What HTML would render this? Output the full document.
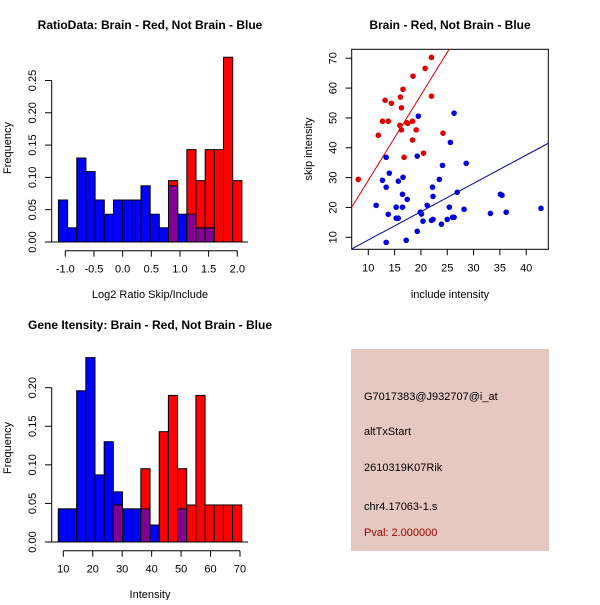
<!DOCTYPE html>
<html><head><meta charset="utf-8"><style>
body{margin:0;background:#fff}
svg text{font-family:"Liberation Sans",sans-serif}
</style></head><body>
<svg id="s" width="600" height="600" xmlns="http://www.w3.org/2000/svg"></svg>
<script>
// Panel 1: ratio histogram
const ratioStart=-1.12, ratioWidth=0.16;
const ratioBlue=[0.065,0.022,0.13,0.109,0.065,0.043,0.065,0.065,0.065,0.087,0.043,0.022,0.087,0.043,0.043,0.022,0.022,0,0,0];
const ratioRed=[0,0,0,0,0,0,0,0,0,0,0,0,0.095,0,0.143,0.095,0.143,0.143,0.286,0.095];
const ratioXTicks=[-1.0,-0.5,0.0,0.5,1.0,1.5,2.0];
const ratioYTicks=[0,0.05,0.10,0.15,0.20,0.25];
// Panel 3: intensity histogram
const intStart=8.3, intWidth=3.115;
const intBlue=[0.043,0.043,0.196,0.239,0.087,0.13,0.065,0.043,0.043,0.043,0.022,0,0,0.043,0,0,0,0,0,0];
const intRed=[0,0,0,0,0,0,0.048,0,0,0.095,0,0.143,0.19,0.095,0.048,0.19,0.048,0.048,0.048,0.048];
const intXTicks=[10,20,30,40,50,60,70];
const intYTicks=[0,0.05,0.10,0.15,0.20];
// Panel 2: scatter
const redX=[8.1,11.9,12.7,13.2,13.8,14.4,16.0,16.1,16.3,16.3,16.6,16.8,17.3,17.5,18.4,18.4,18.5,19.1,20.5,20.8,22.0,22.0,24.2];
const redY=[29.4,44.2,48.9,55.9,48.9,54.9,47.5,57.0,53.4,46.0,59.6,36.8,48.4,48.2,48.9,42.6,64.0,46.0,38.2,66.6,57.3,70.3,44.9];
const blueX=[11.5,12.7,13.4,13.4,13.4,13.8,14.0,15.3,15.3,15.7,15.7,16.5,16.5,16.6,17.4,17.2,19.3,19.3,19.5,19.9,20.1,20.4,21.2,22.0,22.2,22.3,22.3,23.5,23.9,24.1,25.0,25.4,25.6,26.0,26.3,26.3,26.9,28.2,28.6,33.2,35.1,35.4,36.2,42.8];
const blueY=[20.7,29.1,26.8,36.8,8.3,17.7,31.5,20.1,16.4,16.4,28.8,24.4,20.1,30.1,22.7,9.0,12.0,37.2,50.6,18.4,17.8,15.4,20.7,15.7,26.8,23.7,16.0,29.4,14.4,34.1,16.0,20.1,41.8,16.7,51.6,16.7,25.1,19.4,34.8,18.0,24.4,24.1,18.4,19.7];
const redFit=[0.47,2.86], blueFit=[-0.38,0.948];
const scXTicks=[10,15,20,25,30,35,40];
const scYTicks=[10,20,30,40,50,60,70];

const S=document.getElementById('s'),NS='http://www.w3.org/2000/svg';
function mk(t,a,p){const e=document.createElementNS(NS,t);for(const k in a)e.setAttribute(k,a[k]);(p||S).appendChild(e);return e;}
function txt(x,y,s,o){const e=mk('text',Object.assign({x:x,y:y,'font-size':11,'text-anchor':'middle',fill:'#000'},o||{}));e.textContent=s;return e;}

function hist(g,start,w,blue,red,xt,yt,sx,sy,base,xlab,ttl,ty){
  const gg=mk('g',{});
  const t=txt(150,ty,ttl,{'font-weight':'bold','font-size':12});
  for(let i=0;i<blue.length;i++){const x0=sx(start+i*w),x1=sx(start+(i+1)*w);
    if(blue[i]>0){const r=mk('rect',{x:x0,y:sy(blue[i]),width:x1-x0,height:base-sy(blue[i]),fill:'#0000ff',stroke:'#000','stroke-width':1},gg);}
  }
  for(let i=0;i<red.length;i++){const x0=sx(start+i*w),x1=sx(start+(i+1)*w);
    if(red[i]>0){const r=mk('rect',{x:x0,y:sy(red[i]),width:x1-x0,height:base-sy(red[i]),fill:'#ff0000',stroke:'#000','stroke-width':1},gg);
      const m=Math.min(red[i],blue[i]);
      if(m>0){const p=mk('rect',{x:x0,y:sy(m),width:x1-x0,height:base-sy(m),fill:'#800090',stroke:'#000','stroke-width':1},gg);}}
  }
  mk('line',{x1:51.7,x2:248,y1:base,y2:base,stroke:'#000'},gg);
  mk('line',{x1:51.7,x2:51.7,y1:sy(yt[yt.length-1]),y2:base,stroke:'#000'},gg);
  yt.forEach(v=>{const y=sy(v);mk('line',{x1:45,x2:51.7,y1:y,y2:y,stroke:'#000'},gg);
    const l=txt(0,0,v.toFixed(2),{transform:`translate(36,${y}) rotate(-90)`});});
  const ay=base+8.7;
  mk('line',{x1:sx(xt[0]),x2:sx(xt[xt.length-1]),y1:ay,y2:ay,stroke:'#000'},gg);
  xt.forEach(v=>{const x=sx(v);mk('line',{x1:x,x2:x,y1:ay,y2:ay+6,stroke:'#000'},gg);
    const l=txt(x,ay+22,Number.isInteger(v)&&Math.abs(v)>=10?String(v):v.toFixed(1));});
  const xl=txt(150,base+56,xlab);
  const yl=txt(0,0,'Frequency',{transform:`translate(11,${base-94}) rotate(-90)`});
}
hist('ratio-histogram',ratioStart,ratioWidth,ratioBlue,ratioRed,ratioXTicks,ratioYTicks,v=>65.3+(v+1)*57.33,v=>242-v*646,242,'Log2 Ratio Skip/Include','RatioData: Brain - Red, Not Brain - Blue',29);
hist('intensity-histogram',intStart,intWidth,intBlue,intRed,intXTicks,intYTicks,v=>63.3+(v-10)*2.945,v=>542-v*771.5,542,'Intensity','Gene Itensity: Brain - Red, Not Brain - Blue',329);

// scatter
const L=351.7,R=548.3,T=49.3,B=249.3,X0=6.85,X1=44.2,Y0=5.98,Y1=73;
const px=v=>L+(v-X0)/(X1-X0)*(R-L), py=v=>B-(v-Y0)/(Y1-Y0)*(B-T);
const sg=mk('g',{});
const st=txt(450,29,'Brain - Red, Not Brain - Blue',{'font-weight':'bold','font-size':12});
mk('clipPath',{id:'cp'});mk('rect',{x:L,y:T,width:R-L,height:B-T},document.getElementById('cp'));
mk('rect',{x:L,y:T,width:R-L,height:B-T,fill:'none',stroke:'#000'},sg);
[[redFit,'#cc0000','red-fit-line'],[blueFit,'#000099','blue-fit-line']].forEach(([f,c,n])=>{const l=mk('line',{x1:px(X0),y1:py(f[0]+f[1]*X0),x2:px(X1),y2:py(f[0]+f[1]*X1),stroke:c,'stroke-width':1,'clip-path':'url(#cp)'},sg);});
redX.forEach((v,i)=>{const c=mk('circle',{cx:px(v),cy:py(redY[i]),r:2.8,fill:'#e00000'},sg);});
blueX.forEach((v,i)=>{const c=mk('circle',{cx:px(v),cy:py(blueY[i]),r:2.8,fill:'#0000dd'},sg);});
scXTicks.forEach(v=>{const x=px(v);mk('line',{x1:x,x2:x,y1:B,y2:B+6,stroke:'#000'},sg);const l=txt(x,B+22,String(v));});
scYTicks.forEach(v=>{const y=py(v);mk('line',{x1:L-6,x2:L,y1:y,y2:y,stroke:'#000'},sg);const l=txt(0,0,String(v),{transform:`translate(${L-15},${y}) rotate(-90)`});});
const sx=txt(450,298,'include intensity');
const sy=txt(0,0,'skip intensity',{transform:'translate(312,149) rotate(-90)'});

// info panel
const ig=mk('g',{});
mk('rect',{x:351,y:349,width:198,height:202,fill:'#e6c8c3'},ig);
[['G7017383@J932707@i_at',400,'#000'],['altTxStart',435,'#000'],['2610319K07Rik',471,'#000'],['chr4.17063-1.s',510,'#000'],['Pval: 2.000000',536,'#a00000']].forEach(([s,y,c])=>{const t=txt(364,y,s,{'text-anchor':'start',fill:c});});
</script>
</body></html>
